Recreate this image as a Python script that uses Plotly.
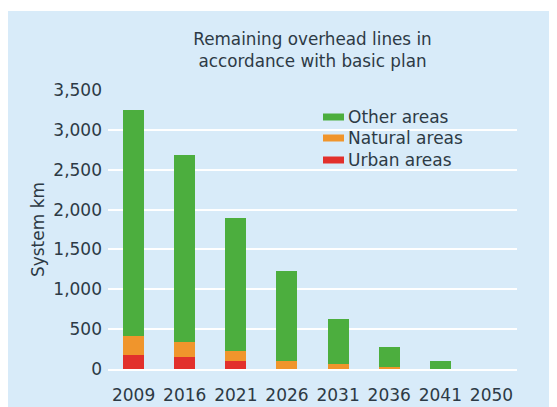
import plotly.graph_objects as go

years = ["2009", "2016", "2021", "2026", "2031", "2036", "2041", "2050"]
urban = [180, 150, 100, 0, 0, 0, 0, 0]
natural = [240, 190, 130, 100, 60, 20, 0, 0]
other = [2830, 2340, 1660, 1130, 570, 250, 100, 0]

series_names = ["Urban areas", "Natural areas", "Other areas"]
series_values = [urban, natural, other]
series_colors = ["#e2302c", "#f0952c", "#4cae3e"]

y_ticks = [0, 500, 1000, 1500, 2000, 2500, 3000, 3500]
y_ticktext = ["0", "500", "1,000", "1,500", "2,000", "2,500", "3,000", "3,500"]

BG = "#d8ebf9"
TXT = "#2d3a45"
FONT = "DejaVu Sans"
FS = 17

OFF = 8  # page body margin
W, H = 557 - OFF, 407 - OFF
# plot area in page pixels: x 108..517, y 90..369
L, R, T, B = 108 - OFF, W - (517 - OFF), 90 - OFF, H - (369 - OFF)
pw, ph = W - L - R, H - T - B


def px_x(px):
    return (px - OFF - L) / pw


def px_y(py):
    return (H - B - (py - OFF)) / ph


fig = go.Figure()
for name, vals, col in zip(series_names, series_values, series_colors):
    fig.add_trace(go.Bar(x=years, y=vals, name=name, marker_color=col,
                         marker_line_width=0, width=0.41, showlegend=False))

shapes = [
    dict(type="rect", xref="paper", yref="paper", layer="below",
         x0=px_x(0), x1=px_x(600), y0=px_y(11), y1=px_y(0),
         fillcolor="white", line_width=0),
    dict(type="rect", xref="paper", yref="paper", layer="between",
         x0=px_x(322), x1=px_x(474), y0=px_y(166), y1=px_y(104),
         fillcolor=BG, line_width=0),
]
annotations = []
legend_rows = [("Other areas", "#4cae3e", 117), ("Natural areas", "#f0952c", 138),
               ("Urban areas", "#e2302c", 160)]
for label, col, py in legend_rows:
    shapes.append(dict(type="rect", xref="paper", yref="paper", layer="above",
                       x0=px_x(323), x1=px_x(344), y0=px_y(py + 3.5), y1=px_y(py - 3.5),
                       fillcolor=col, line_width=0))
    annotations.append(dict(xref="paper", yref="paper", x=px_x(346), y=px_y(py),
                            xanchor="left", yanchor="middle", showarrow=False,
                            text=label, font=dict(family=FONT, size=FS, color=TXT)))

fig.update_layout(
    width=W, height=H,
    margin=dict(l=L, r=R, t=T, b=B, pad=0, autoexpand=False),
    paper_bgcolor=BG,
    plot_bgcolor="rgba(0,0,0,0)",
    barmode="stack",
    bargap=0.59,
    font=dict(family=FONT, size=FS, color=TXT),
    title=dict(text="Remaining overhead lines in<br>accordance with basic plan",
               x=0.5, xref="paper", xanchor="center", y=1 - (45 - OFF) / H,
               yanchor="middle",
               font=dict(family=FONT, size=16.8, color=TXT)),
    shapes=shapes,
    annotations=annotations,
    xaxis=dict(type="category", categoryorder="array", categoryarray=years,
               automargin=False,
               showgrid=False, zeroline=False, showline=True, linecolor="white",
               linewidth=2, ticks="", ticklabelstandoff=10,
               tickfont=dict(family=FONT, size=FS, color=TXT)),
    yaxis=dict(range=[0, 3500], tickvals=y_ticks, ticktext=y_ticktext,
               automargin=False,
               showgrid=True, gridcolor="white", gridwidth=2, zeroline=False,
               ticks="", ticklabelstandoff=5,
               tickfont=dict(family=FONT, size=FS, color=TXT),
               title=dict(text="System km", standoff=4,
                          font=dict(family=FONT, size=FS, color=TXT))),
)

fig.write_html("out.html")
